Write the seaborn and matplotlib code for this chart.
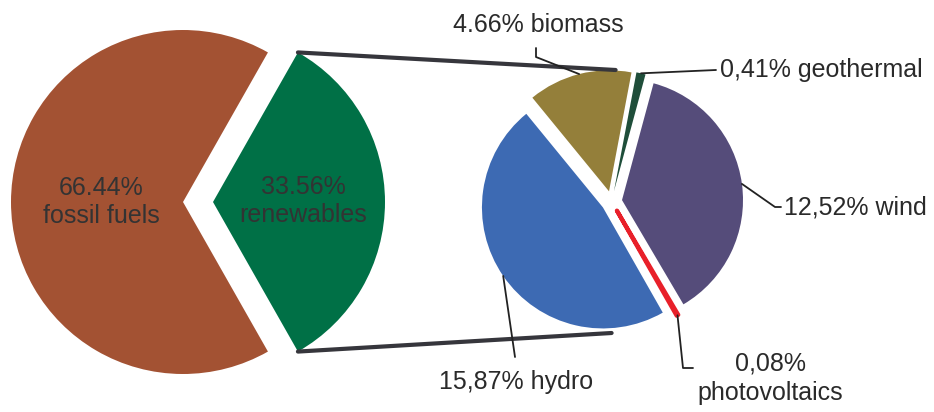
import numpy as np
import matplotlib
matplotlib.use("Agg")
import matplotlib.pyplot as plt
import seaborn as sns

# main pie
main_names = ["renewables", "fossil fuels"]
main_values = [33.56, 66.44]
main_colors = ["#007046", "#A35233"]

# breakdown of renewables
sub_names = ["wind", "geothermal", "biomass", "hydro", "photovoltaics"]
sub_values = [12.52, 0.41, 4.66, 15.87, 0.08]
sub_text = ["12,52% wind", "0,41% geothermal", "4.66% biomass",
            "15,87% hydro", "0,08%\nphotovoltaics"]
sub_colors = ["#554C7A", "#1F4E3A", "#947F3A", "#3D6AB3", "#E8202A"]

sns.set_theme(style="white")
plt.rcParams["font.family"] = ["Liberation Sans", "DejaVu Sans"]

W, H = 934, 412
fig = plt.figure(figsize=(W / 100, H / 100), dpi=100)
ax = fig.add_axes([0, 0, 1, 1])


def px(x, y):
    # pixel position (top-left origin) -> data coords
    return x, H - y


def rim(w, frac=1.0):
    t = np.deg2rad((w.theta1 + w.theta2) / 2)
    cx, cy = w.center
    return cx + w.r * frac * np.cos(t), cy + w.r * frac * np.sin(t)


txt_col = "#333333"
fs = 18

# left pie (explode is in data units = pixels here)
ang = 360 * main_values[0] / sum(main_values)
w1, _ = ax.pie(main_values, colors=main_colors, startangle=-ang / 2,
               center=px(183, 202), radius=172, explode=[30, 0],
               wedgeprops=dict(linewidth=0), frame=True)
ax.text(*px(101, 202), "%.2f%%\n%s" % (main_values[1], main_names[1]),
        ha="center", va="center", fontsize=fs, color=txt_col, linespacing=1.25)
ax.text(*px(303, 201), "%.2f%%\n%s" % (main_values[0], main_names[0]),
        ha="center", va="center", fontsize=fs, color=txt_col, linespacing=1.25)

# right pie
c2 = px(611.6, 201.5)
r2 = 121
ex = 10.5
w2, _ = ax.pie(sub_values, colors=sub_colors, startangle=-59.5, center=c2,
               radius=r2, explode=[ex] * len(sub_values),
               wedgeprops=dict(linewidth=0), frame=True)
w2[-1].set_edgecolor(sub_colors[-1])
w2[-1].set_linewidth(3)
w2[-1].set_joinstyle("round")

# connector lines
rw = w1[0]
for th, sgn in [(rw.theta2, 1), (rw.theta1, -1)]:
    t = np.deg2rad(th)
    x0 = rw.center[0] + rw.r * np.cos(t)
    y0 = rw.center[1] + rw.r * np.sin(t)
    x1 = c2[0] + (4 if sgn > 0 else 0)
    y1 = c2[1] + sgn * (r2 + ex)
    ax.plot([x0, x1], [y0, y1], color="#36363c", lw=3,
            solid_capstyle="round", zorder=3)

# leader lines and labels: (elbow points, text pos, ha)
leaders = {
    "biomass": ([(536, 57), (536, 48)], (538, 25), "center"),
    "geothermal": ([(716, 70)], (720, 70), "left"),
    "wind": ([(775, 207), (781, 207)], (784, 207), "left"),
    "photovoltaics": ([(683, 368), (693, 368)], (770, 378), "center"),
    "hydro": ([(515, 357)], (516, 382), "center"),
}
for w, name, label in zip(w2, sub_names, sub_text):
    pts, tpos, ha = leaders[name]
    xs, ys = zip(rim(w), *[px(*p) for p in pts])
    ax.plot(xs, ys, color="#222222", lw=1.3, zorder=3)
    ax.text(*px(*tpos), label, ha=ha, va="center", fontsize=fs,
            color="#2a2a2a", linespacing=1.3, multialignment="center")

ax.set_xlim(0, W)
ax.set_ylim(0, H)
ax.set_aspect("equal")
ax.axis("off")
fig.savefig("out.png", dpi=100)
